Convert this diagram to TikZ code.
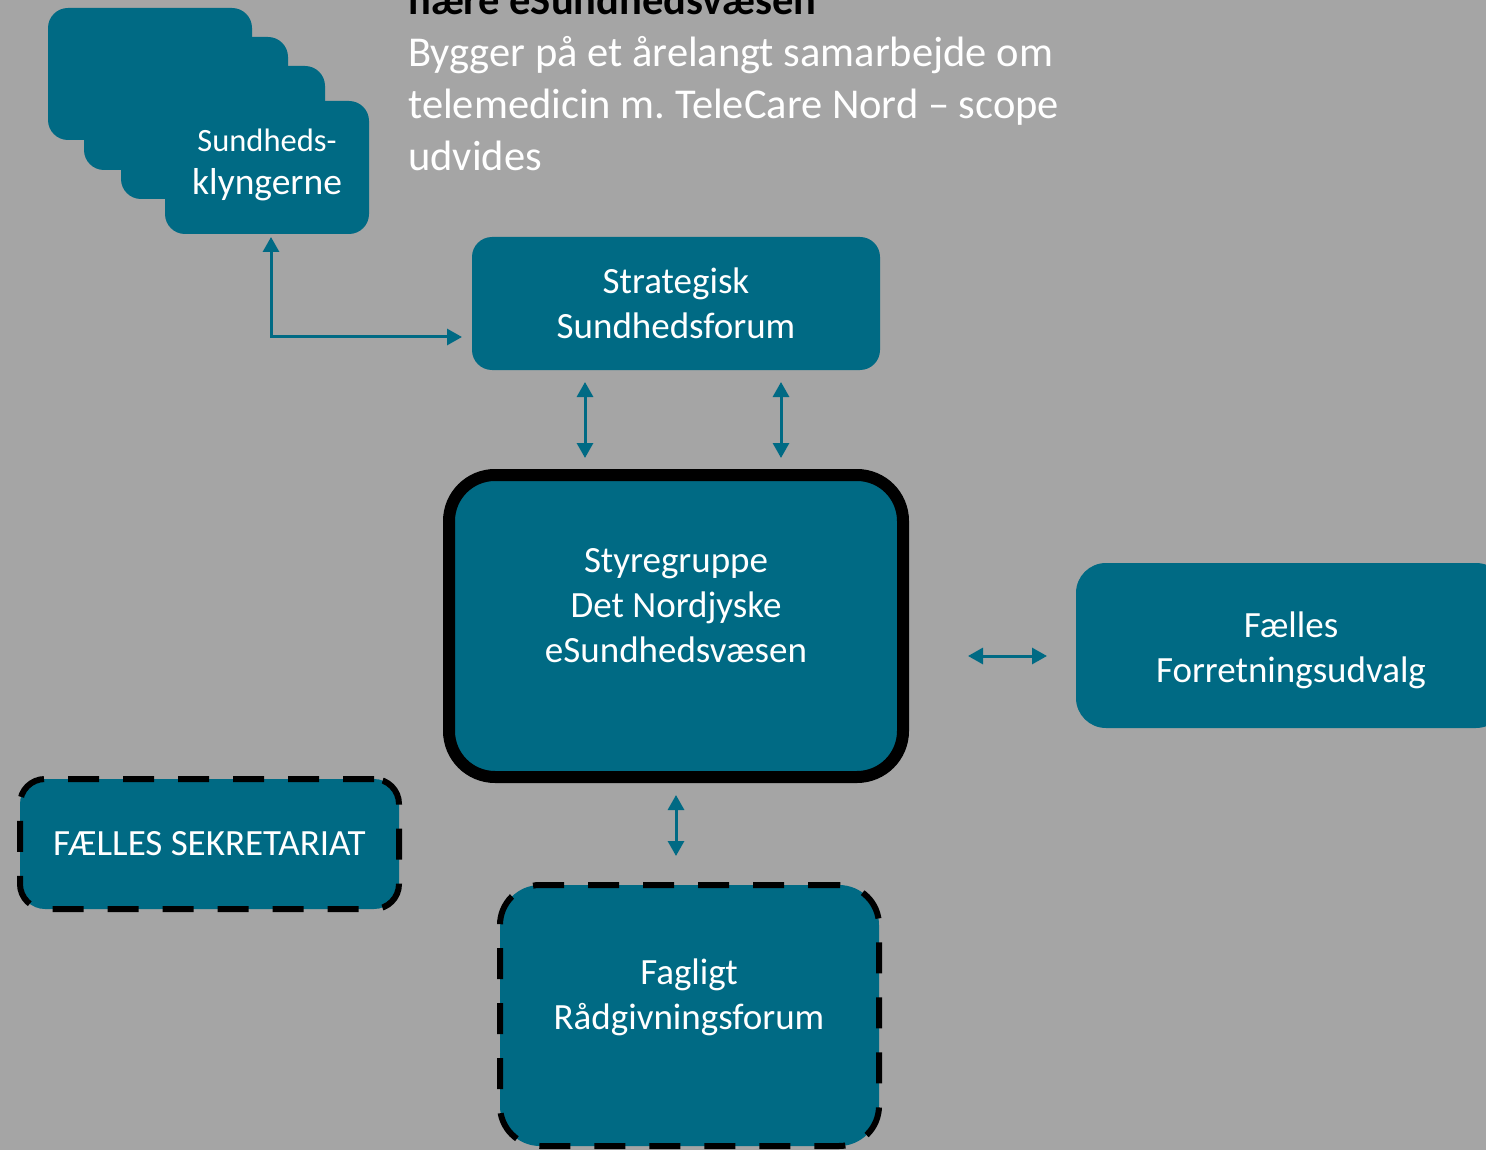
\documentclass[tikz,border=0pt]{standalone}
\usepackage{fontspec}
\setmainfont{Carlito}
\usetikzlibrary{positioning, arrows.meta}

\definecolor{azul}{HTML}{006A84}
\definecolor{gris}{HTML}{A5A5A5}

\tikzset{
  caja/.style={fill=azul, text=white, align=center, inner sep=0pt, outer sep=0pt,
    rounded corners=20pt, font=\fontsize{37}{45}\selectfont},
  texto/.style={text=white, align=center, inner sep=0pt, font=\fontsize{37}{45}\selectfont},
  flecha/.style={draw=azul, line width=3pt,
    {Triangle[length=15pt,width=16pt]}-{Triangle[length=15pt,width=16pt]}},
  rayas/.style={draw=black, line width=6pt, dash pattern=on 31pt off 24pt},
}
\frenchspacing

\begin{document}
\begin{tikzpicture}[x=1pt, y=-1pt]
  % Fondo gris
  \useasboundingbox (0,0) rectangle (1486,1150);
  \clip (0,0) rectangle (1486,1150);
  \fill[gris] (0,0) rectangle (1486,1150);

  % Texto de arriba (cortado por el borde)
  \node[anchor=north west, align=left, inner sep=0pt, text=white,
    font=\fontsize{42.5}{52}\selectfont] (intro) at (408,-16)
    {{\color{black}\bfseries nære eSundhedsvæsen}\\Bygger på et årelangt samarbejde om\\telemedicin m. TeleCare Nord – scope\\udvides};

  % Pila de sundhedsklynger
  \node[caja, minimum width=204pt, minimum height=132pt] (klynge1) at (150,74) {};
  \node[caja, minimum width=204pt, minimum height=133pt] (klynge2) at (186,103.5) {};
  \node[caja, minimum width=204pt, minimum height=133pt] (klynge3) at (223,132.5) {};
  \node[caja, minimum width=204pt, minimum height=133pt] (klynge4) at (267,167.5) {};
  \node[texto, font=\fontsize{37.5}{43}\selectfont] (klyngetxt) at (267,165)
    {{\fontsize{32.5}{38}\selectfont Sundheds-}\\klyngerne};

  % Strategisk Sundhedsforum
  \node[caja, minimum width=408pt, minimum height=133pt] (strat) at (676,303.5) {Strategisk\\Sundhedsforum};

  % Styregruppe (borde negro grueso)
  \node[caja, draw=black, line width=12pt, rounded corners=46pt,
    minimum width=454pt, minimum height=302pt] (styre) at (676,626) {};
  \node[texto] (styretxt) at (676,606) {Styregruppe\\Det Nordjyske\\eSundhedsvæsen};

  % Fælles Forretningsudvalg
  \node[caja, rounded corners=30pt, minimum width=430pt, minimum height=165pt] (fora) at (1291,645.5) {};
  \node[texto] (foratxt) at (1291,650.5) {Fælles\\Forretningsudvalg};

  % Sekretariat y forum (borde discontinuo)
  \node[caja, rayas, rounded corners=25pt, minimum width=379pt, minimum height=130pt] (sekr) at (209.5,844)
    {FÆLLES SEKRETARIAT};
  \node[caja, rayas, rounded corners=40pt, minimum width=379pt, minimum height=261pt] (fag) at (689.5,1015.5) {};
  \node[texto] (fagtxt) at (689,997.5) {Fagligt\\Rådgivningsforum};

  % Flechas dobles
  \draw[flecha, shorten <=3pt, shorten >=10pt] ([xshift=4pt]klynge4.south) |- ([yshift=-33.5pt]strat.west);
  \draw[flecha, shorten <=12pt, shorten >=17pt] ([xshift=-91pt]strat.south) -- ([xshift=-91pt]styre.north);
  \draw[flecha, shorten <=12pt, shorten >=17pt] ([xshift=105pt]strat.south) -- ([xshift=105pt]styre.north);
  \draw[flecha, shorten <=65pt, shorten >=29pt] ([yshift=-30pt]styre.east) -- ([yshift=-10.5pt]fora.west);
  \draw[flecha, shorten <=18pt, shorten >=29pt] (styre.south) -- ([xshift=-13.5pt]fag.north);
\end{tikzpicture}
\end{document}
